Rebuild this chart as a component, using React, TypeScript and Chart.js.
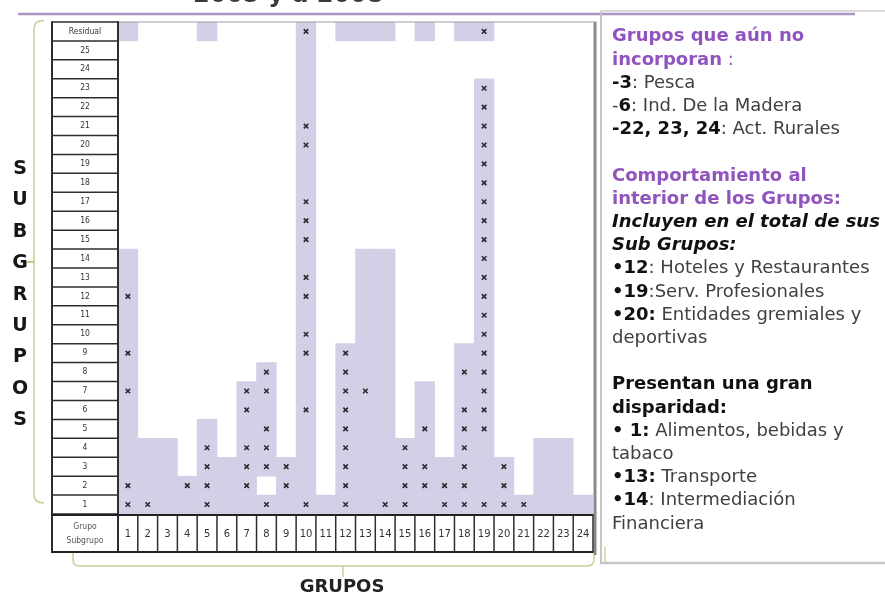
import React, { useEffect, useRef } from 'react';
import { Chart, registerables } from 'chart.js';

Chart.register(...registerables);

const titleText = '2005 y a 2008';
const groups = ['1', '2', '3', '4', '5', '6', '7', '8', '9', '10', '11', '12', '13', '14', '15', '16', '17', '18', '19', '20', '21', '22', '23', '24'];
const subgroupLabels = ['1', '2', '3', '4', '5', '6', '7', '8', '9', '10', '11', '12', '13', '14', '15', '16', '17', '18', '19', '20', '21', '22', '23', '24', '25', 'Residual'];
// highest filled subgroup per group
const columnHeights = [14, 4, 4, 2, 5, 3, 7, 8, 3, 25, 1, 9, 14, 14, 4, 7, 3, 9, 23, 3, 1, 4, 4, 1];
// groups with a filled "Residual" cell
const residualGroups = ['1', '5', '10', '12', '13', '14', '16', '18', '19'];
// cells below the top that are empty
const emptyCells: Array<[string, number]> = [['8', 2]];
const RESIDUAL = 26;
// subgroups marked with an "x" (26 = Residual)
const markRows: number[][] = [
  [12, 9, 7, 2, 1],
  [1],
  [],
  [2],
  [4, 3, 2, 1],
  [],
  [7, 6, 4, 3, 2],
  [8, 7, 5, 4, 3, 1],
  [3, 2],
  [26, 21, 20, 17, 16, 15, 13, 12, 10, 9, 6, 1],
  [],
  [9, 8, 7, 6, 5, 4, 3, 2, 1],
  [7],
  [1],
  [4, 3, 2, 1],
  [5, 3, 2],
  [2, 1],
  [8, 6, 5, 4, 3, 2, 1],
  [26, 23, 22, 21, 20, 19, 18, 17, 16, 15, 14, 13, 12, 11, 10, 9, 8, 7, 6, 5, 1],
  [3, 2, 1],
  [1],
  [],
  [],
  [],
];
const axisLetters = ['S', 'U', 'B', 'G', 'R', 'U', 'P', 'O', 'S'];
const groupAxisTitle = 'GRUPOS';
const cornerLabels = ['Grupo', 'Subgrupo'];

const SHADE = '#d4cfe6';
const ROW_FONT_FAMILY = '"DejaVu Sans Condensed", "DejaVu Sans", sans-serif';
const ROW_FONT_SIZE = 8.5;
const PURPLE = '#9153bd';

function segmentsFor(i: number): Array<[number, number]> {
  const h = columnHeights[i];
  const holes = emptyCells.filter(([g]) => g === groups[i]).map(([, r]) => r);
  const segs: Array<[number, number]> = [];
  let start = 0;
  for (let r = 1; r <= h; r++) {
    if (holes.includes(r)) {
      if (r - 1 > start) segs.push([start, r - 1]);
      start = r;
    }
  }
  if (h > start) segs.push([start, h]);
  return segs;
}

const decoPlugin = {
  id: 'deco',
  afterDraw(chart: any) {
    const { ctx, chartArea: area } = chart;
    const x = chart.scales.x;
    const y = chart.scales.y;
    const line = (x1: number, y1: number, x2: number, y2: number, color: string, w: number) => {
      ctx.beginPath();
      ctx.strokeStyle = color;
      ctx.lineWidth = w;
      ctx.moveTo(x1, y1);
      ctx.lineTo(x2, y2);
      ctx.stroke();
    };
    ctx.save();
    // cut-off title
    ctx.fillStyle = '#3a3a3a';
    ctx.font = 'bold 24px "DejaVu Sans"';
    ctx.textAlign = 'left';
    ctx.textBaseline = 'alphabetic';
    ctx.fillText(titleText, 193, 2);

    // top purple rule and panel frame
    line(600, 11, 885, 11, '#cfcfcf', 1.5);
    line(18, 14, 855, 14, '#ab93c6', 2.5);
    line(601, 12, 601, 563, '#c6c6c6', 2);
    line(600, 563, 885, 563, '#c6c6c6', 2.5);
    line(605, 547, 605, 562, '#d2d2a0', 1.5);

    const colL = y.left;
    const colR = y.right;
    const top = area.top;
    const bottom = area.bottom;
    const xb = x.bottom;

    // grid top border and right border
    line(area.left, top, area.right, top, '#a0a0a0', 1);
    line(area.right + 2, top - 0.5, area.right + 2, xb + 3, '#8a8a8a', 3);

    // label column
    for (let v = 0; v <= subgroupLabels.length; v++) {
      const py = y.getPixelForValue(v);
      line(colL, py, colR, py, '#2e2e2e', 1.5);
    }
    line(colL, top - 0.75, colL, xb + 1, '#2e2e2e', 2);
    line(colR, top - 0.75, colR, xb + 1, '#2e2e2e', 2);

    // bottom group row
    line(colL - 1, bottom + 1, area.right + 0.5, bottom + 1, '#222', 2.2);
    line(colL - 1, xb, area.right + 0.5, xb, '#222', 2.2);
    for (let i = 1; i <= groups.length; i++) {
      const px = x.getPixelForValue(i - 0.5);
      line(px, bottom + 1, px, xb, '#2e2e2e', 1.5);
    }
    ctx.fillStyle = '#555';
    ctx.font = `${ROW_FONT_SIZE}px ${ROW_FONT_FAMILY}`;
    ctx.textAlign = 'center';
    ctx.textBaseline = 'middle';
    const cx = (colL + colR) / 2;
    ctx.fillText(cornerLabels[0], cx, bottom + 13);
    ctx.fillText(cornerLabels[1], cx, bottom + 27);

    // vertical axis name
    ctx.fillStyle = '#161616';
    ctx.font = 'bold 19px "DejaVu Sans"';
    axisLetters.forEach((ch, i) => ctx.fillText(ch, 20, 169 + i * 31.4));

    // horizontal axis name
    ctx.font = 'bold 18px "DejaVu Sans"';
    ctx.fillStyle = '#222';
    ctx.fillText(groupAxisTitle, 342, 587);

    // brackets
    ctx.strokeStyle = '#cbcb93';
    ctx.lineWidth = 1.5;
    ctx.beginPath();
    ctx.moveTo(44, 20.5);
    ctx.quadraticCurveTo(34, 20.5, 34, 28);
    ctx.lineTo(34, 495);
    ctx.quadraticCurveTo(34, 503, 44, 503);
    ctx.stroke();
    line(27, 262, 34, 262, '#a9bd62', 1.5);

    ctx.strokeStyle = '#cbcb93';
    ctx.lineWidth = 1.5;
    ctx.beginPath();
    ctx.moveTo(73, 553);
    ctx.lineTo(73, 560);
    ctx.quadraticCurveTo(73, 566, 80, 566);
    ctx.lineTo(587, 566);
    ctx.quadraticCurveTo(594, 566, 594, 559);
    ctx.lineTo(594, 555);
    ctx.stroke();
    line(343, 566, 343, 577, '#cbcb93', 1.5);
    ctx.restore();
  },
};

export default function App() {
  const ref = useRef<HTMLCanvasElement | null>(null);

  useEffect(() => {
    if (!ref.current) return;
    const m = document.createElement('canvas').getContext('2d')!;
    m.font = `${ROW_FONT_SIZE}px ${ROW_FONT_FAMILY}`;
    const widest = Math.max(...subgroupLabels.map((l) => m.measureText(l).width));
    const yPad = 33 - widest / 2;

    const segs = groups.map((_, i) => segmentsFor(i));
    const maxSeg = Math.max(...segs.map((s) => s.length));
    const barSets: any[] = Array.from({ length: maxSeg }, (_, k) => ({
      type: 'bar',
      data: segs.map((s) => s[k] ?? null),
      backgroundColor: SHADE,
      borderWidth: 0,
      grouped: false,
      barPercentage: 1,
      categoryPercentage: 1,
      order: 2,
    }));
    barSets.push({
      type: 'bar',
      data: groups.map((g) => (residualGroups.includes(g) ? [RESIDUAL - 1, RESIDUAL] : null)),
      backgroundColor: SHADE,
      borderWidth: 0,
      grouped: false,
      barPercentage: 1,
      categoryPercentage: 1,
      order: 2,
    });
    const marks = markRows.flatMap((rows, i) => rows.map((r) => ({ x: groups[i], y: r - 0.5 })));

    const chart = new Chart(ref.current, {
      type: 'bar',
      data: {
        labels: groups,
        datasets: [
          {
            type: 'scatter',
            data: marks,
            pointStyle: 'crossRot',
            pointRadius: 3.2,
            borderColor: '#2a2a2a',
            backgroundColor: '#2a2a2a',
            borderWidth: 1.6,
            order: 0,
          } as any,
          ...barSets,
        ],
      },
      options: {
        responsive: false,
        animation: false,
        events: [],
        layout: { padding: { left: 52, top: 20, right: 292, bottom: 45 } },
        plugins: { legend: { display: false }, tooltip: { enabled: false } },
        scales: {
          x: {
            type: 'category',
            offset: true,
            grid: { display: false, drawTicks: false },
            border: { display: false },
            ticks: {
              color: '#333',
              font: { family: '"DejaVu Sans", sans-serif', size: 10 },
              padding: 14,
              maxRotation: 0,
              autoSkip: false,
            },
            afterFit: (s: any) => {
              s.height = 38;
            },
          },
          y: {
            type: 'linear',
            min: 0,
            max: RESIDUAL,
            grid: { display: false, drawTicks: false },
            border: { display: false },
            afterBuildTicks: (s: any) => {
              s.ticks = subgroupLabels.map((_, i) => ({ value: i + 0.5 }));
            },
            ticks: {
              autoSkip: false,
              crossAlign: 'center',
              padding: yPad,
              color: '#333',
              font: { family: ROW_FONT_FAMILY, size: ROW_FONT_SIZE },
              callback: (v: any) => subgroupLabels[Math.floor(Number(v))],
            },
            afterFit: (s: any) => {
              s.width = 66;
            },
          },
        },
      },
      plugins: [decoPlugin],
    });
    return () => chart.destroy();
  }, []);

  const purpleB: React.CSSProperties = { color: PURPLE, fontWeight: 'bold' };
  const blk: React.CSSProperties = { color: '#111', fontWeight: 'bold' };
  const blank = <div>&nbsp;</div>;

  return (
    <div style={{ position: 'fixed', left: 0, top: 0, width: 885, height: 597, overflow: 'hidden', background: '#fff' }}>
      <canvas ref={ref} width={885} height={597} style={{ position: 'absolute', left: 0, top: 0, width: 885, height: 597 }} />
      <div
        style={{
          position: 'absolute',
          left: 612,
          top: 23.4,
          font: '18px "DejaVu Sans", sans-serif',
          lineHeight: '23.2px',
          color: '#404040',
          whiteSpace: 'nowrap',
        }}
      >
        <div><span style={purpleB}>Grupos que aún no</span></div>
        <div><span style={purpleB}>incorporan</span><span style={{ color: PURPLE }}> :</span></div>
        <div><span style={blk}>-3</span>: Pesca</div>
        <div>-<span style={blk}>6</span>: Ind. De la Madera</div>
        <div><span style={blk}>-22, 23, 24</span>: Act. Rurales</div>
        {blank}
        <div><span style={purpleB}>Comportamiento al</span></div>
        <div><span style={purpleB}>interior de los Grupos:</span></div>
        <div><span style={{ ...blk, fontStyle: 'italic' }}>Incluyen en el total de sus</span></div>
        <div><span style={{ ...blk, fontStyle: 'italic' }}>Sub Grupos:</span></div>
        <div><span style={blk}>•12</span>: Hoteles y Restaurantes</div>
        <div><span style={blk}>•19</span>:Serv. Profesionales</div>
        <div><span style={blk}>•20:</span> Entidades gremiales y</div>
        <div>deportivas</div>
        {blank}
        <div><span style={blk}>Presentan una gran</span></div>
        <div><span style={blk}>disparidad:</span></div>
        <div><span style={blk}>• 1:</span> Alimentos, bebidas y</div>
        <div>tabaco</div>
        <div><span style={blk}>•13:</span> Transporte</div>
        <div><span style={blk}>•14</span>: Intermediación</div>
        <div>Financiera</div>
      </div>
    </div>
  );
}
